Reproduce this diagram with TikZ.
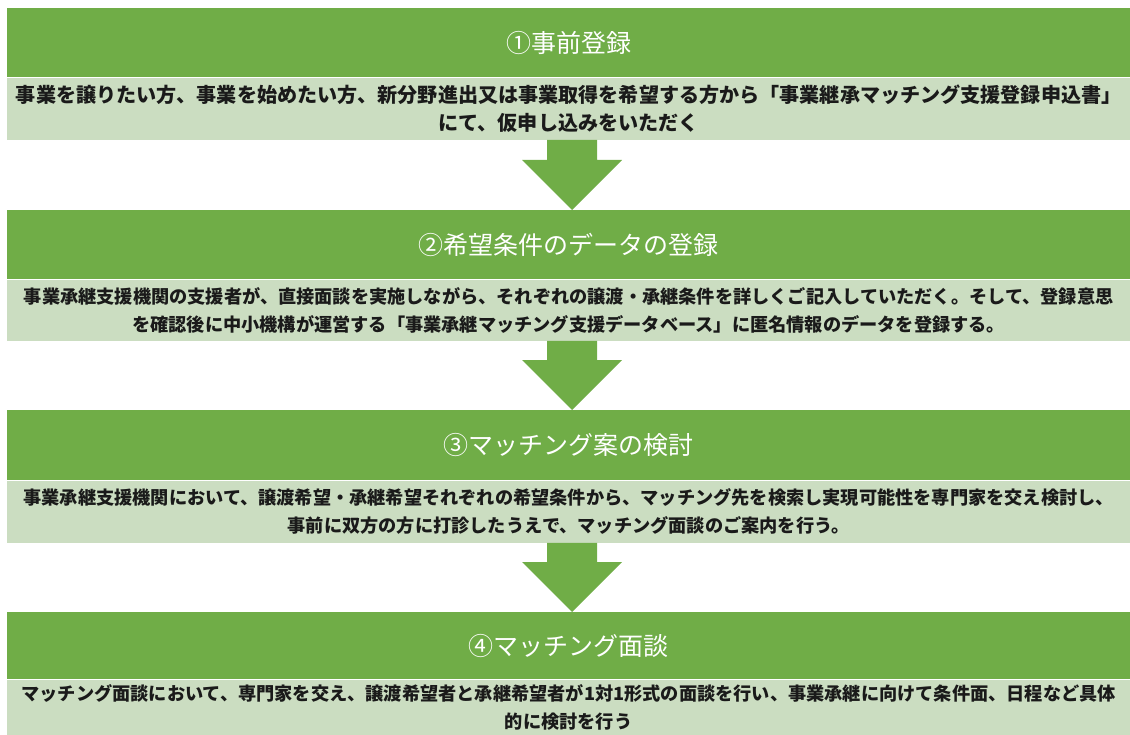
\documentclass[tikz,border=0pt]{standalone}
\usepackage{fontspec}
\setmainfont{Noto Sans CJK JP}
\usetikzlibrary{calc}
\definecolor{hdrgreen}{HTML}{70AD47}
\definecolor{bodygreen}{HTML}{CBDDC1}
\definecolor{bodytext}{HTML}{1A1A1A}
\newcommand{\flowarrow}[2]{%
  \fill[hdrgreen] ($(#1)+(-25,0)$) -- ($(#1)+(25,0)$) -- ($(#2)+(25,-50)$) -- ($(#2)+(50,-50)$)
    -- (#2) -- ($(#2)+(-50,-50)$) -- ($(#2)+(-25,-50)$) -- cycle;}
\begin{document}
\begin{tikzpicture}[x=1pt,y=-1pt,
  hdrbox/.style={fill=hdrgreen, text=white, font=\fontsize{25}{30}\selectfont,
    minimum width=1123pt, inner sep=0pt, anchor=north west},
  bodybox/.style={fill=bodygreen, text=bodytext,
    minimum width=1123pt, align=center, inner sep=0pt, anchor=north west},
  bigtext/.style={font=\fontsize{20.1}{27.5}\selectfont\bfseries},
  smalltext/.style={font=\fontsize{18.2}{28}\selectfont\bfseries}]
\useasboundingbox (0,0) rectangle (1130,735);
% step 1
\node[hdrbox, minimum height=69pt] (h1) at (7,8) {①事前登録};
\node[bodybox, bigtext, minimum height=62pt] (b1) at (h1.south west)
  {事業を譲りたい方、事業を始めたい方、新分野進出又は事業取得を希望する方から「事業継承マッチング支援登録申込書」\\にて、仮申し込みをいただく};
% step 2
\node[hdrbox, minimum height=69pt] (h2) at (7,210) {②希望条件のデータの登録};
\node[bodybox, smalltext, minimum height=61pt] (b2) at (h2.south west)
  {事業承継支援機関の支援者が、直接面談を実施しながら、それぞれの譲渡・承継条件を詳しくご記入していただく。そして、登録意思\\を確認後に中小機構が運営する「事業承継マッチング支援データベース」に匿名情報のデータを登録する。};
% step 3
\node[hdrbox, minimum height=70pt] (h3) at (7,410) {③マッチング案の検討};
\node[bodybox, smalltext, minimum height=62pt] (b3) at (h3.south west)
  {事業承継支援機関において、譲渡希望・承継希望それぞれの希望条件から、マッチング先を検索し実現可能性を専門家を交え検討し、\\事前に双方の方に打診したうえで、マッチング面談のご案内を行う。};
% step 4
\node[hdrbox, minimum height=67pt] (h4) at (7,612) {④マッチング面談};
\node[bodybox, smalltext, minimum height=56pt] (b4) at (h4.south west)
  {マッチング面談において、専門家を交え、譲渡希望者と承継希望者が1対1形式の面談を行い、事業承継に向けて条件面、日程など具体\\的に検討を行う};
% arrows
\coordinate (a1s) at ($(b1.south)+(3.5,0)$);
\coordinate (a1e) at ($(h2.north)+(3.5,0)$);
\coordinate (a2s) at ($(b2.south)+(3.5,0)$);
\coordinate (a2e) at ($(h3.north)+(3.5,0)$);
\coordinate (a3s) at ($(b3.south)+(3.5,0)$);
\coordinate (a3e) at ($(h4.north)+(3.5,0)$);
\flowarrow{a1s}{a1e}
\flowarrow{a2s}{a2e}
\flowarrow{a3s}{a3e}
\end{tikzpicture}
\end{document}
